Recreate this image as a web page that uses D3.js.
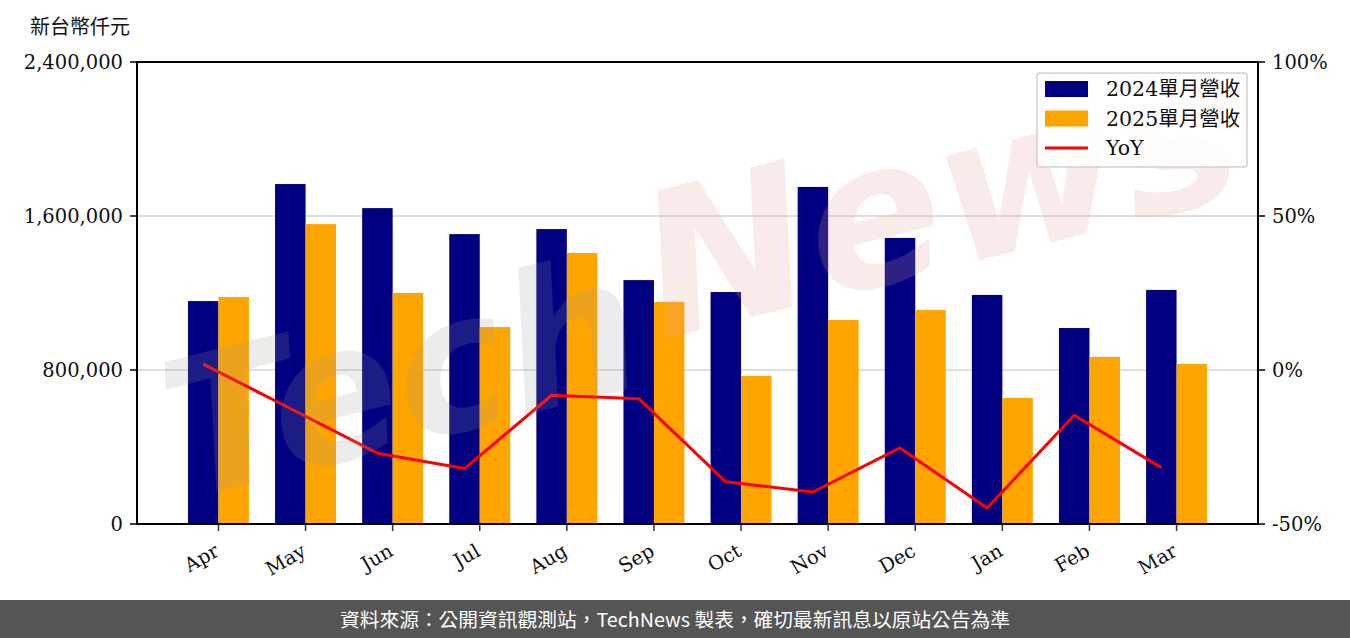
<!DOCTYPE html>
<html>
<head>
<meta charset="utf-8">
<script src="https://cdn.jsdelivr.net/npm/d3@7"></script>
<style>
  html, body { margin: 0; padding: 0; background: #fff; }
  svg { display: block; }
</style>
</head>
<body>
<svg id="chart" width="1350" height="638"></svg>
<script>
// ---- data ----
const months = ["Apr","May","Jun","Jul","Aug","Sep","Oct","Nov","Dec","Jan","Feb","Mar"];
const rev2024 = [1158000,1766000,1641000,1506000,1532000,1267000,1205000,1751000,1486000,1190000,1018000,1216000];
const rev2025 = [1179000,1558000,1200000,1023000,1408000,1153000,769000,1060000,1112000,655000,868000,831000];
const yoy = [1.9,-12.5,-27.0,-32.0,-8.2,-9.3,-36.3,-39.6,-25.3,-44.8,-14.7,-31.7];
const leftTicks = [0,800000,1600000,2400000];
const rightTicks = [-50,0,50,100];
const seriesNames = ["2024單月營收","2025單月營收","YoY"];
const yTitle = "新台幣仟元";
const footerText = "資料來源：公開資訊觀測站，TechNews 製表，確切最新訊息以原站公告為準";

// ---- layout ----
const L = 137, R = 1258, T = 62, B = 524;
const serif = "'DejaVu Serif', 'Liberation Serif', 'Noto Sans CJK TC', serif";
const svg = d3.select("#chart");

const x = d3.scaleLinear().domain([-0.76, 12.11]).range([L, R]);
const y = d3.scaleLinear().domain([0, 2400000]).range([B, T]);
const y2 = d3.scaleLinear().domain([-50, 100]).range([B, T]);
const bw = 0.35;

// gridlines
svg.append("g").selectAll("line").data(leftTicks).join("line")
  .attr("x1", L).attr("x2", R)
  .attr("y1", d => y(d)).attr("y2", d => y(d))
  .attr("stroke", "#d3d3d3").attr("stroke-width", 1.5);

// bars
svg.append("g").selectAll("rect").data(rev2024).join("rect")
  .attr("x", (d,i) => x(i - bw/2)).attr("width", (d,i) => x(i + bw/2) - x(i - bw/2))
  .attr("y", d => y(d)).attr("height", d => B - y(d))
  .attr("fill", "#000080");
svg.append("g").selectAll("rect").data(rev2025).join("rect")
  .attr("x", (d,i) => x(i + bw/2)).attr("width", (d,i) => x(i + 1.5*bw) - x(i + bw/2))
  .attr("y", d => y(d)).attr("height", d => B - y(d))
  .attr("fill", "#FFA500");

// YoY line
svg.append("path").datum(yoy)
  .attr("d", d3.line().x((d,i) => x(i)).y(d => y2(d)))
  .attr("fill", "none").attr("stroke", "#ff0000").attr("stroke-width", 3)
  .attr("stroke-linejoin", "round");

// watermark
const wm = svg.append("g").attr("pointer-events", "none")
  .attr("transform", "translate(700,330) rotate(-14)");
wm.append("text").attr("x", -60).attr("y", 40)
  .attr("text-anchor", "end")
  .style("font-family", "'DejaVu Sans', sans-serif").style("font-style", "italic")
  .style("font-weight", "bold").style("font-size", "190px")
  .attr("fill", "#999").attr("opacity", 0.18).text("Tech");
wm.append("text").attr("x", -40).attr("y", 0)
  .attr("text-anchor", "start")
  .style("font-family", "'DejaVu Sans', sans-serif").style("font-style", "italic")
  .style("font-weight", "bold").style("font-size", "200px")
  .attr("fill", "#e8a0a0").attr("opacity", 0.2).text("News");

// frame
svg.append("rect").attr("x", L).attr("y", T).attr("width", R - L).attr("height", B - T)
  .attr("fill", "none").attr("stroke", "#000").attr("stroke-width", 2);

// left axis
const fmt = d3.format(",");
const la = svg.append("g");
la.selectAll("line").data(leftTicks).join("line")
  .attr("x1", L - 7).attr("x2", L).attr("y1", d => y(d)).attr("y2", d => y(d))
  .attr("stroke", "#000").attr("stroke-width", 1.5);
la.selectAll("text").data(leftTicks).join("text")
  .attr("x", L - 14).attr("y", d => y(d)).attr("dy", "0.35em")
  .attr("text-anchor", "end")
  .style("font-family", serif).style("font-size", "19.5px").attr("fill", "#111")
  .text(d => fmt(d));

// right axis
const ra = svg.append("g");
ra.selectAll("line").data(rightTicks).join("line")
  .attr("x1", R).attr("x2", R + 7).attr("y1", d => y2(d)).attr("y2", d => y2(d))
  .attr("stroke", "#000").attr("stroke-width", 1.5);
ra.selectAll("text").data(rightTicks).join("text")
  .attr("x", R + 14).attr("y", d => y2(d)).attr("dy", "0.35em")
  .attr("text-anchor", "start")
  .style("font-family", serif).style("font-size", "19.5px").attr("fill", "#111")
  .text(d => d + "%");

// bottom axis
const ba = svg.append("g");
ba.selectAll("line").data(months).join("line")
  .attr("x1", (d,i) => x(i + bw/2)).attr("x2", (d,i) => x(i + bw/2))
  .attr("y1", B).attr("y2", B + 7)
  .attr("stroke", "#333").attr("stroke-width", 1.5);
ba.selectAll("text").data(months).join("text")
  .attr("transform", (d,i) => `translate(${x(i + bw/2) - 5},${B + 19}) rotate(-30)`)
  .attr("text-anchor", "end").attr("dy", "0.7em")
  .style("font-family", serif).style("font-size", "19.5px").attr("fill", "#111")
  .text(d => d);

// y title
svg.append("text").attr("x", 30).attr("y", 34)
  .style("font-family", serif).style("font-size", "20px").attr("fill", "#111")
  .text(yTitle);

// legend
const lg = svg.append("g");
lg.append("rect").attr("x", 1037).attr("y", 73).attr("width", 210).attr("height", 94)
  .attr("rx", 3).attr("fill", "#fff").attr("fill-opacity", 0.85)
  .attr("stroke", "#d0d0d0").attr("stroke-width", 1.5);
const colors = ["#000080", "#FFA500", "#ff0000"];
seriesNames.forEach((n, k) => {
  const cy = 89 + k * 29.5;
  if (k < 2) {
    lg.append("rect").attr("x", 1045).attr("y", cy - 8).attr("width", 43).attr("height", 16)
      .attr("fill", colors[k]);
  } else {
    lg.append("line").attr("x1", 1045).attr("x2", 1088).attr("y1", cy).attr("y2", cy)
      .attr("stroke", colors[k]).attr("stroke-width", 3);
  }
  lg.append("text").attr("x", 1106).attr("y", cy).attr("dy", "0.35em")
    .style("font-family", serif).style("font-size", "20.5px").attr("fill", "#111")
    .text(n);
});

// footer
svg.append("rect").attr("x", 0).attr("y", 600).attr("width", 1350).attr("height", 38)
  .attr("fill", "#555");
svg.append("text").attr("x", 675).attr("y", 620).attr("dy", "0.35em")
  .attr("text-anchor", "middle")
  .style("font-family", "'Noto Sans CJK TC', 'Noto Sans', sans-serif").style("font-size", "19px")
  .attr("textLength", 670).attr("lengthAdjust", "spacingAndGlyphs")
  .attr("fill", "#fff").text(footerText);
</script>
</body>
</html>
